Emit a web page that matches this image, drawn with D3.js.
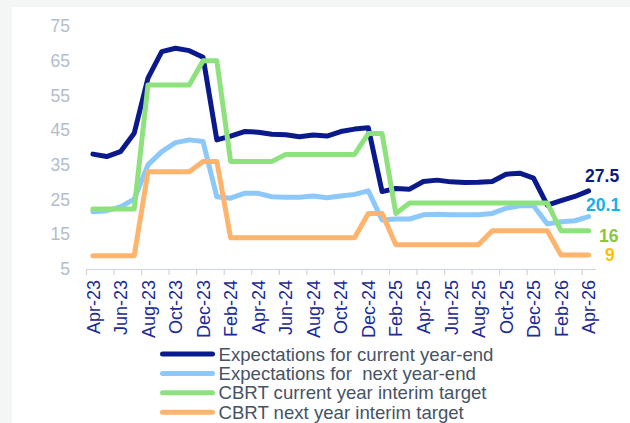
<!DOCTYPE html>
<html>
<head>
<meta charset="utf-8">
<script src="https://cdn.jsdelivr.net/npm/d3@7"></script>
<style>
  body { margin: 0; background: #f4f6f6; }
  svg { display: block; font-family: "Liberation Sans", Arial, sans-serif; }
  .legend text { white-space: pre; }
</style>
</head>
<body>
<svg id="chart"></svg>
<script>
// months on the category axis
const months = [
  'Apr-23', 'May-23', 'Jun-23', 'Jul-23', 'Aug-23', 'Sep-23', 'Oct-23', 'Nov-23', 'Dec-23',
  'Jan-24', 'Feb-24', 'Mar-24', 'Apr-24', 'May-24', 'Jun-24', 'Jul-24', 'Aug-24', 'Sep-24',
  'Oct-24', 'Nov-24', 'Dec-24', 'Jan-25', 'Feb-25', 'Mar-25', 'Apr-25', 'May-25', 'Jun-25',
  'Jul-25', 'Aug-25', 'Sep-25', 'Oct-25', 'Nov-25', 'Dec-25', 'Jan-26', 'Feb-26', 'Mar-26', 'Apr-26'
];

const expCurrent = [38.1, 37.4, 38.8, 44.1, 60.0, 67.6, 68.6, 67.9, 66.0,
  42.2, 43.3, 44.6, 44.4, 43.8, 43.7, 43.1, 43.6, 43.3, 44.6, 45.3, 45.7,
  27.3, 28.2, 28.0, 30.2, 30.6, 30.1, 29.9, 30.0, 30.2, 32.3, 32.6, 31.2,
  23.4, 24.7, 25.9, 27.5];

const expNext = [21.5, 21.8, 22.9, 25.1, 35.0, 38.8, 41.4, 42.2, 41.7,
  25.8, 25.4, 26.8, 26.8, 25.8, 25.7, 25.7, 26.0, 25.5, 26.0, 26.5, 27.5,
  19.1, 19.4, 19.4, 20.6, 20.8, 20.6, 20.6, 20.6, 21.0, 22.5, 23.2, 23.2,
  18.0, 18.6, 18.9, 20.1];

const cbrtCurrent = [22.3, 22.3, 22.3, 22.3, 58, 58, 58, 58, 65,
  65, 36, 36, 36, 36, 38, 38, 38, 38, 38, 38, 44,
  44, 21, 24, 24, 24, 24, 24, 24, 24, 24, 24, 24,
  24, 16, 16, 16];

const cbrtNext = [8.8, 8.8, 8.8, 8.8, 33, 33, 33, 33, 36,
  36, 14, 14, 14, 14, 14, 14, 14, 14, 14, 14, 21,
  21, 12, 12, 12, 12, 12, 12, 12, 16, 16, 16, 16,
  16, 9, 9, 9];

const seriesNames = [
  'Expectations for current year-end',
  'Expectations for  next year-end',
  'CBRT current year interim target',
  'CBRT next year interim target'
];
const endLabels = ['27.5', '20.1', '16', '9'];
const yTicks = [5, 15, 25, 35, 45, 55, 65, 75];

const config = {
  width: 630, height: 423,
  plot: { left: 86, right: 595.5, top: 26, bottom: 269 },
  lineColors: ['#0a1a8c', '#8cc8fa', '#8de27e', '#ffb46e'],
  labelColors: ['#0d1a80', '#12b0ee', '#8cc63f', '#ffc000'],
  // offsets of the end-value labels from the last point
  labelOffsets: [[-3.5, -8.5], [-2.5, -6], [10.5, 11.5], [16.5, 5.6]]
};

const series = [expCurrent, expNext, cbrtCurrent, cbrtNext];

const svg = d3.select('#chart')
  .attr('width', config.width)
  .attr('height', config.height);

svg.append('rect')
  .attr('x', 12).attr('y', 7)
  .attr('width', config.width - 12).attr('height', config.height - 7)
  .attr('fill', '#ffffff');

// category index scale: band i spans [i, i+1], points sit in the middle
const x = d3.scaleLinear()
  .domain([0, months.length])
  .range([config.plot.left, config.plot.right]);

const y = d3.scaleLinear()
  .domain([5, 75])
  .range([config.plot.bottom, config.plot.top]);

// y axis labels only
const yAxis = d3.axisLeft(y).tickValues(yTicks).tickSize(0).tickPadding(16);
const yAxisG = svg.append('g')
  .attr('transform', `translate(${config.plot.left},0)`)
  .call(yAxis);
yAxisG.select('.domain').remove();
yAxisG.selectAll('text')
  .attr('fill', '#b4bcc8')
  .attr('font-size', '17.5px')
  .attr('font-family', '"Liberation Sans", Arial, sans-serif');

// x axis line + tick marks at every second category boundary
const boundaryTicks = d3.range(0, months.length, 2);
const xAxis = d3.axisBottom(x).tickValues(boundaryTicks).tickSize(6).tickSizeOuter(0).tickFormat('');
const xAxisG = svg.append('g')
  .attr('transform', `translate(0,${config.plot.bottom})`)
  .call(xAxis);
xAxisG.selectAll('.domain, line').attr('stroke', '#cdd4de').attr('stroke-width', 1.2);

// x labels at category centres
const labelIdx = d3.range(0, months.length, 2);
const xLabelAxis = d3.axisBottom(x)
  .tickValues(labelIdx.map(i => i + 0.5))
  .tickSize(0)
  .tickFormat(v => months[Math.floor(v)]);
const xLabelG = svg.append('g')
  .attr('transform', `translate(0,${config.plot.bottom})`)
  .call(xLabelAxis);
xLabelG.select('.domain').remove();
xLabelG.selectAll('text')
  .attr('font-size', '18px')
  .attr('font-family', '"Liberation Sans", Arial, sans-serif')
  .attr('fill', '#1a2a96')
  .attr('text-anchor', 'end')
  .attr('transform', 'rotate(-90)')
  .attr('x', -11)
  .attr('y', 0)
  .attr('dy', '0.34em');

// lines
const line = d3.line()
  .x((d, i) => x(i + 0.5))
  .y(d => y(d));

svg.append('g')
  .selectAll('path')
  .data(series)
  .join('path')
  .attr('d', line)
  .attr('fill', 'none')
  .attr('stroke', (d, i) => config.lineColors[i])
  .attr('stroke-width', 5)
  .attr('stroke-linejoin', 'round')
  .attr('stroke-linecap', 'round');

// end value labels
const last = months.length - 1;
svg.append('g')
  .selectAll('text')
  .data(series)
  .join('text')
  .attr('x', (d, i) => x(last + 0.5) + config.labelOffsets[i][0])
  .attr('y', (d, i) => y(d[last]) + config.labelOffsets[i][1])
  .attr('fill', (d, i) => config.labelColors[i])
  .attr('font-size', '17.5px')
  .attr('font-weight', 'bold')
  .text((d, i) => endLabels[i]);

// legend
const legend = svg.append('g').attr('class', 'legend');
const rowY = d3.scaleLinear().domain([0, 3]).range([354, 412.3]);
const rows = legend.selectAll('g')
  .data(seriesNames)
  .join('g')
  .attr('transform', (d, i) => `translate(0,${rowY(i)})`);
rows.append('line')
  .attr('x1', 162.5).attr('x2', 212.5)
  .attr('stroke', (d, i) => config.lineColors[i])
  .attr('stroke-width', 5)
  .attr('stroke-linecap', 'round');
rows.append('text')
  .attr('x', 218.5)
  .attr('dy', '0.35em')
  .attr('fill', '#465365')
  .attr('font-size', '18.6px')
  .text(d => d);
</script>
</body>
</html>
